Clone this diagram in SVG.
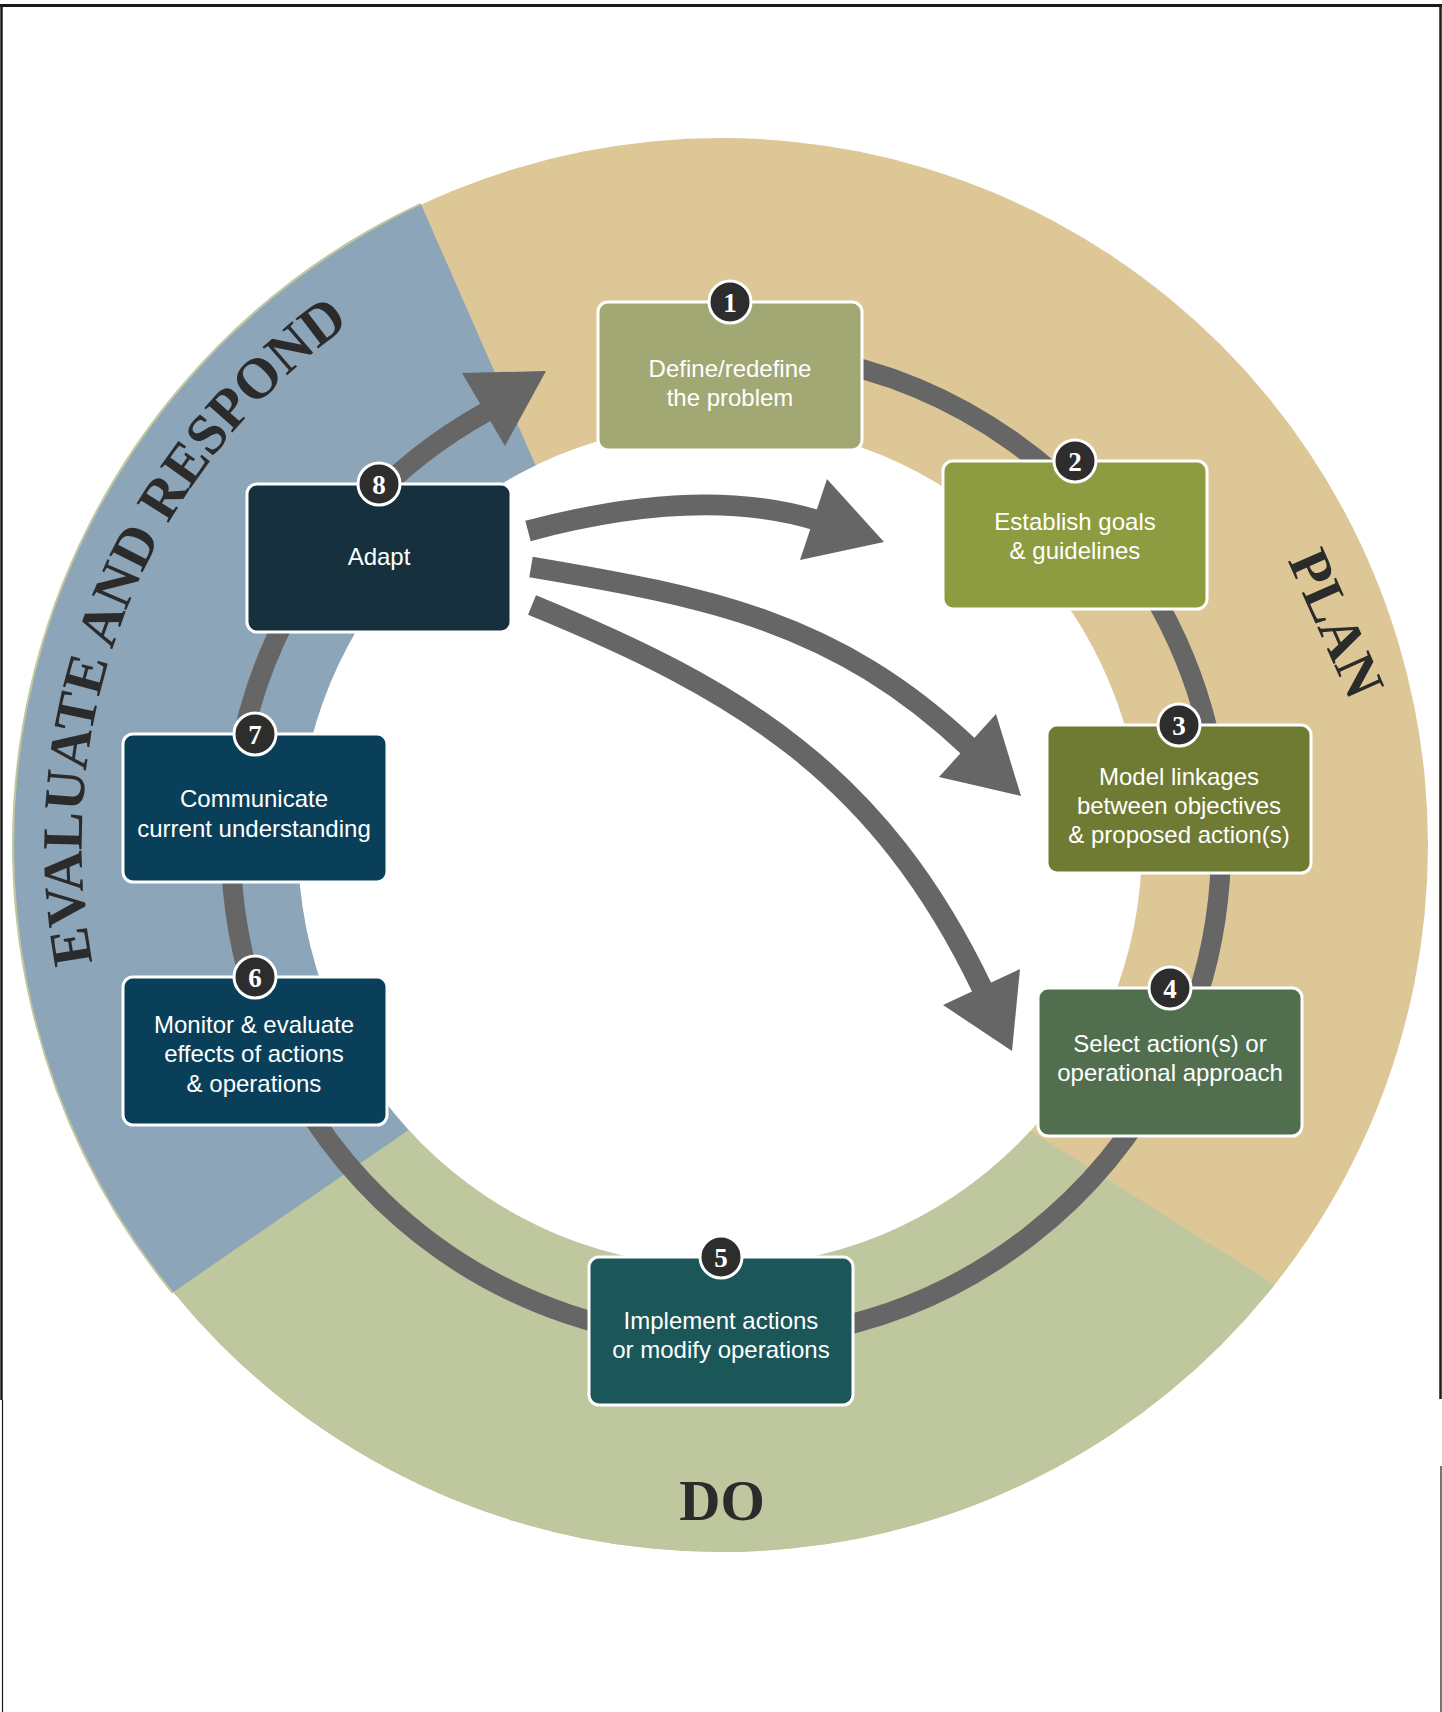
<svg xmlns="http://www.w3.org/2000/svg" width="1442" height="1712" viewBox="0 0 1442 1712">
<style>
.box{stroke:#fff;stroke-width:3}
.badge{fill:#2d2d2d;stroke:#fff;stroke-width:3}
.num{font-family:"Liberation Serif","DejaVu Serif",serif;font-weight:bold;font-size:27px;fill:#fff;text-anchor:middle}
.lbl{font-family:"Liberation Sans",Arial,sans-serif;font-size:24px;fill:#fff;text-anchor:middle}
.phase{font-family:"Liberation Serif","DejaVu Serif",serif;font-weight:bold;font-size:57px;fill:#2b2b2b}
.track{fill:none;stroke:#666;stroke-width:20}
.arr{fill:none;stroke:#666;stroke-width:21}
.head{fill:#666}
.frame{stroke:#1a1a1a;fill:none}
</style>
<defs>
<clipPath id="outer"><circle cx="721" cy="845" r="707"/></clipPath>
<path id="evalPath" d="M 721 1484 A 639 639 0 1 1 721 206 A 639 639 0 1 1 721 1484"/>
</defs>
<rect width="1442" height="1712" fill="#fff"/>
<g id="ring">
<path d="M 173.1 1292.6 A 707.5 707.5 0 0 1 420.9 204.3" fill="none" stroke="#BEC79D" stroke-width="3"/>
<g clip-path="url(#outer)">
<rect x="0" y="100" width="1442" height="1500" fill="#DEC797"/>
<path d="M 569 541.5 L 364.7 75.9 L -110 75.9 L -110 1485 L -106.5 1485 L 479.3 1081.6 Z" fill="#8CA5B9"/>
<path d="M 479.3 1081.6 L -106.5 1485 L -110 1800 L 1800 1800 L 1742 1579 L 966.5 1090.6 Z" fill="#BEC79D"/>
</g>
</g>
<circle id="hole" cx="720" cy="845" r="422" fill="#fff"/>
<g id="phase-labels">
<text class="phase"><textPath href="#evalPath" startOffset="1249" text-anchor="middle">EVALUATE AND RESPOND</textPath></text>
<text class="phase" text-anchor="middle" transform="translate(1319,631) rotate(66)">PLAN</text>
<text class="phase" text-anchor="middle" x="722" y="1520">DO</text>
</g>
<g id="connectors">
<path class="track" d="M 812 357.5 A 495 495 0 1 1 486 412.1"/>
<polygon class="head" points="462,373 546,371 505,446"/>
<path class="arr" d="M 528 531 Q 700 485 816 520"/>
<polygon class="head" points="827,479 884,542 800,560"/>
<path class="arr" d="M 531 567 C 708 597 836 621 970 748"/>
<polygon class="head" points="996,714 1021,796 939,777"/>
<path class="arr" d="M 532 605 C 740 690 880 774 983 990"/>
<polygon class="head" points="1020,969 1012,1051 943,1005"/>
</g>
<g id="node1">
<rect class="box" x="598" y="302" width="264" height="148" rx="10" fill="#A1A873"/>
<circle class="badge" cx="730" cy="302" r="21"/>
<text class="num" x="730" y="311.5">1</text>
<text class="lbl" x="730" y="377">Define/redefine</text>
<text class="lbl" x="730" y="406">the problem</text>
</g>
<g id="node2">
<rect class="box" x="943" y="461" width="264" height="148" rx="10" fill="#8D9C40"/>
<circle class="badge" cx="1075" cy="461" r="21"/>
<text class="num" x="1075" y="470.5">2</text>
<text class="lbl" x="1075" y="530">Establish goals</text>
<text class="lbl" x="1075" y="559">&amp; guidelines</text>
</g>
<g id="node3">
<rect class="box" x="1047" y="725" width="264" height="148" rx="10" fill="#6F7B33"/>
<circle class="badge" cx="1179" cy="725" r="21"/>
<text class="num" x="1179" y="734.5">3</text>
<text class="lbl" x="1179" y="785">Model linkages</text>
<text class="lbl" x="1179" y="814">between objectives</text>
<text class="lbl" x="1179" y="843">&amp; proposed action(s)</text>
</g>
<g id="node4">
<rect class="box" x="1038" y="988" width="264" height="148" rx="10" fill="#516F4F"/>
<circle class="badge" cx="1170" cy="988" r="21"/>
<text class="num" x="1170" y="997.5">4</text>
<text class="lbl" x="1170" y="1052">Select action(s) or</text>
<text class="lbl" x="1170" y="1081">operational approach</text>
</g>
<g id="node5">
<rect class="box" x="589" y="1257" width="264" height="148" rx="10" fill="#1B5659"/>
<circle class="badge" cx="721" cy="1257" r="21"/>
<text class="num" x="721" y="1266.5">5</text>
<text class="lbl" x="721" y="1329">Implement actions</text>
<text class="lbl" x="721" y="1358">or modify operations</text>
</g>
<g id="node6">
<rect class="box" x="123" y="977" width="264" height="148" rx="10" fill="#0A3F5A"/>
<circle class="badge" cx="255" cy="977" r="21"/>
<text class="num" x="255" y="986.5">6</text>
<text class="lbl" x="254" y="1033">Monitor &amp; evaluate</text>
<text class="lbl" x="254" y="1062">effects of actions</text>
<text class="lbl" x="254" y="1092">&amp; operations</text>
</g>
<g id="node7">
<rect class="box" x="123" y="734" width="264" height="148" rx="10" fill="#0A3F5A"/>
<circle class="badge" cx="255" cy="734" r="21"/>
<text class="num" x="255" y="743.5">7</text>
<text class="lbl" x="254" y="807">Communicate</text>
<text class="lbl" x="254" y="837">current understanding</text>
</g>
<g id="node8">
<rect class="box" x="247" y="484" width="264" height="148" rx="10" fill="#16303E"/>
<circle class="badge" cx="379" cy="484" r="21"/>
<text class="num" x="379" y="493.5">8</text>
<text class="lbl" x="379" y="565">Adapt</text>
</g>
<g id="frame">
<line class="frame" x1="0" y1="5.5" x2="1442" y2="5.5" stroke-width="3"/>
<line class="frame" x1="1.5" y1="4" x2="1.5" y2="1400" stroke-width="2.5"/>
<line class="frame" x1="2.5" y1="1400" x2="2.5" y2="1712" stroke-width="1.2"/>
<line class="frame" x1="1440.5" y1="4" x2="1440.5" y2="1399" stroke-width="2.5"/>
<line class="frame" x1="1441" y1="1466" x2="1441" y2="1712" stroke-width="1.2"/>
</g>
</svg>
